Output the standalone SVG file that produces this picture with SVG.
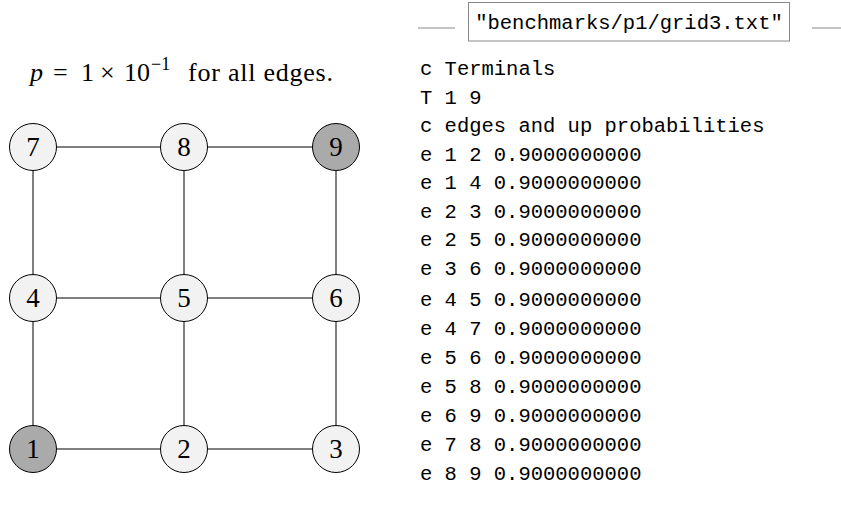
<svg xmlns="http://www.w3.org/2000/svg" width="841" height="510" viewBox="0 0 841 510">
<style>
.edge{stroke:#555;stroke-width:1.5;fill:none}
.node circle{fill:#f2f2f2;stroke:#000;stroke-width:1}
.node.term circle{fill:#aaaaaa}
.node text{font-family:"Liberation Serif",serif;font-size:27px;text-anchor:middle;fill:#000}
.code{font-family:"Liberation Mono",monospace;font-size:20.5px;fill:#000}
.title{font-family:"Liberation Serif",serif;font-size:26px;fill:#000}
</style>
<rect width="841" height="510" fill="#fff"/>
<g id="caption" class="title">
<text x="30" y="81" font-style="italic">p</text>
<text x="53" y="81">=</text>
<text x="81" y="81">1</text>
<text x="100" y="81">×</text>
<text x="124" y="81">10</text>
<text x="151" y="70" font-size="18">−1</text>
<text x="188" y="81" textLength="145" lengthAdjust="spacing">for all edges.</text>
</g>
<g id="connectors">
<line class="edge" x1="33" y1="147" x2="184" y2="147"/>
<line class="edge" x1="184" y1="147" x2="336" y2="147"/>
<line class="edge" x1="33" y1="298" x2="184" y2="298"/>
<line class="edge" x1="184" y1="298" x2="336" y2="298"/>
<line class="edge" x1="33" y1="449" x2="184" y2="449"/>
<line class="edge" x1="184" y1="449" x2="336" y2="449"/>
<line class="edge" x1="33" y1="147" x2="33" y2="449"/>
<line class="edge" x1="184" y1="147" x2="184" y2="449"/>
<line class="edge" x1="336" y1="147" x2="336" y2="449"/>
</g>
<g id="n7" class="node"><circle cx="33" cy="147" r="23.5"/><text x="33" y="156">7</text></g>
<g id="n8" class="node"><circle cx="184" cy="147" r="23.5"/><text x="184" y="156">8</text></g>
<g id="n9" class="node term"><circle cx="336" cy="147" r="23.5"/><text x="336" y="156">9</text></g>
<g id="n4" class="node"><circle cx="33" cy="298" r="23.5"/><text x="33" y="307">4</text></g>
<g id="n5" class="node"><circle cx="184" cy="298" r="23.5"/><text x="184" y="307">5</text></g>
<g id="n6" class="node"><circle cx="336" cy="298" r="23.5"/><text x="336" y="307">6</text></g>
<g id="n1" class="node term"><circle cx="33" cy="449" r="23.5"/><text x="33" y="458">1</text></g>
<g id="n2" class="node"><circle cx="184" cy="449" r="23.5"/><text x="184" y="458">2</text></g>
<g id="n3" class="node"><circle cx="336" cy="449" r="23.5"/><text x="336" y="458">3</text></g>
<g id="file-title">
<line x1="418" y1="28" x2="455" y2="28" stroke="#888" stroke-width="1"/>
<line x1="812" y1="28" x2="841" y2="28" stroke="#888" stroke-width="1"/>
<rect x="468.5" y="2.5" width="321" height="38.5" fill="#fff" stroke="#888" stroke-width="1"/>
<text class="code" x="629" y="29" font-size="20" text-anchor="middle">"benchmarks/p1/grid3.txt"</text>
</g>
<g id="listing" class="code">
<text x="420" y="75" xml:space="preserve">c Terminals</text>
<text x="420" y="103.5" xml:space="preserve">T 1 9</text>
<text x="420" y="132" xml:space="preserve">c edges and up probabilities</text>
<text x="420" y="160.5" xml:space="preserve">e 1 2 0.9000000000</text>
<text x="420" y="189" xml:space="preserve">e 1 4 0.9000000000</text>
<text x="420" y="217.5" xml:space="preserve">e 2 3 0.9000000000</text>
<text x="420" y="246" xml:space="preserve">e 2 5 0.9000000000</text>
<text x="420" y="274.5" xml:space="preserve">e 3 6 0.9000000000</text>
<text x="420" y="306" xml:space="preserve">e 4 5 0.9000000000</text>
<text x="420" y="335" xml:space="preserve">e 4 7 0.9000000000</text>
<text x="420" y="364" xml:space="preserve">e 5 6 0.9000000000</text>
<text x="420" y="393" xml:space="preserve">e 5 8 0.9000000000</text>
<text x="420" y="422" xml:space="preserve">e 6 9 0.9000000000</text>
<text x="420" y="451" xml:space="preserve">e 7 8 0.9000000000</text>
<text x="420" y="480" xml:space="preserve">e 8 9 0.9000000000</text>
</g>
</svg>
